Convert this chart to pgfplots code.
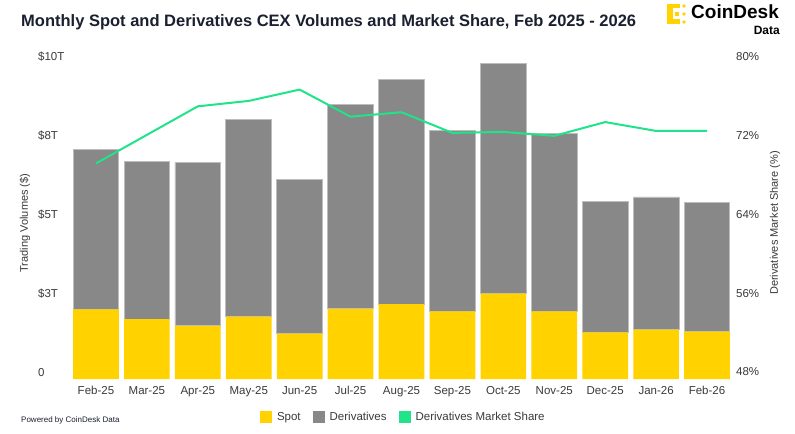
\documentclass[border=0pt]{standalone}
\usepackage{pgfplots}
\pgfplotsset{compat=1.18}
\usepackage{fontspec}
\setmainfont{Liberation Sans}
\definecolor{spotY}{HTML}{FFD200}
\definecolor{derivG}{HTML}{888888}
\definecolor{shareG}{HTML}{20E38A}
\definecolor{titleC}{HTML}{1B2030}
\definecolor{tickC}{HTML}{3A3A3A}
\definecolor{edgeG}{HTML}{BDBDBD}
\newcommand{\fs}[1]{\fontsize{#1bp}{#1bp}\selectfont}
\begin{document}
\begin{tikzpicture}
\useasboundingbox (0,0) rectangle (795bp,434bp);
\fill[white] (0,0) rectangle (795bp,434bp);
\begin{axis}[
  scale only axis, width=662bp, height=315bp,
  at={(70.5bp,55bp)}, anchor=south west,
  xmin=-0.5, xmax=12.5, ymin=0, ymax=10,
  clip=false,
  axis line style={draw=none}, tick style={draw=none},
  ybar stacked, bar width=45.7bp,
  xtick={0,...,12},
  xticklabels={Feb-25,Mar-25,Apr-25,May-25,Jun-25,Jul-25,Aug-25,Sep-25,Oct-25,Nov-25,Dec-25,Jan-26,Feb-26},
  ytick={0,2.5,5,7.5,10},
  yticklabels={0,\$3T,\$5T,\$8T,\$10T},
  ytick pos=left,
  xticklabel style={anchor=base, inner sep=0pt, yshift=-15bp, font=\fs{11.5}, text=tickC},
  yticklabel style={anchor=base west, inner sep=0pt, xshift=-32.5bp, yshift=3bp, font=\fs{11.5}, text=tickC},
  legend columns=3,
  legend image code/.code={\fill[#1,draw=none] (0bp,-6bp) rectangle (12bp,6bp);},
  legend style={at={(0.2863,-0.1206)}, anchor=west, draw=none, fill=none,
    inner sep=0pt, outer sep=0pt, font=\fs{11.5}, text=tickC,
    nodes={inner sep=0pt},
    /tikz/every odd column/.append style={column sep=5bp},
    /tikz/every even column/.append style={column sep=12bp}},
]
\addplot[fill=spotY, draw=none] coordinates {
 (0,2.21) (1,1.90) (2,1.69) (3,1.98) (4,1.44) (5,2.23) (6,2.38)
 (7,2.15) (8,2.71) (9,2.15) (10,1.48) (11,1.57) (12,1.50)};
\addlegendentry{Spot}
\addplot[fill=derivG, draw=edgeG, line width=0.8bp] coordinates {
 (0,5.08) (1,5.00) (2,5.19) (3,6.27) (4,4.90) (5,6.50) (6,7.12)
 (7,5.75) (8,7.32) (9,5.65) (10,4.17) (11,4.21) (12,4.11)};
\addlegendentry{Derivatives}
\addlegendimage{fill=shareG}
\addlegendentry{Derivatives Market Share}
\end{axis}
\begin{axis}[
  scale only axis, width=662bp, height=315bp,
  at={(70.5bp,55bp)}, anchor=south west,
  xmin=-0.5, xmax=12.5, ymin=48, ymax=80,
  clip=false,
  axis line style={draw=none}, tick style={draw=none},
  hide x axis,
  ytick={48,56,64,72,80},
  yticklabels={48\%,56\%,64\%,72\%,80\%},
  ytick pos=right, yticklabel pos=right,
  yticklabel style={anchor=base west, inner sep=0pt, xshift=3.5bp, yshift=3bp, font=\fs{11.5}, text=tickC},
]
\addplot[shareG, line width=2bp, mark=none] coordinates {
 (0,69.9) (1,72.8) (2,75.7) (3,76.25) (4,77.4) (5,74.65) (6,75.1)
 (7,73.0) (8,73.1) (9,72.7) (10,74.1) (11,73.2) (12,73.2)};
\end{axis}
% titles and labels
\node[anchor=base west, inner sep=0pt, font=\bfseries\fs{16.5}, text=titleC] at (21bp,407.3bp)
  {Monthly Spot and Derivatives CEX Volumes and Market Share, Feb 2025 - 2026};
\node[rotate=90, inner sep=0pt, font=\fs{11}, text=tickC] at (25bp,211bp) {Trading Volumes (\$)};
\node[rotate=90, inner sep=0pt, font=\fs{11}, text=tickC] at (775bp,211bp) {Derivatives Market Share (\%)};
\node[anchor=base west, inner sep=0pt, font=\fs{8}, text=titleC] at (21bp,11.7bp) {Powered by CoinDesk Data};
% logo
\fill[spotY] (667bp,430bp) rectangle (680bp,425.5bp);
\fill[spotY] (667bp,430bp) rectangle (672.5bp,410bp);
\fill[spotY] (667bp,414.5bp) rectangle (680bp,410bp);
\fill[spotY] (674.5bp,422bp) rectangle (678.5bp,418bp);
\fill[spotY] (684bp,428bp) circle (1.8bp);
\fill[spotY] (684bp,420bp) circle (1.8bp);
\fill[spotY] (684bp,412bp) circle (1.8bp);
\node[anchor=base west, inner sep=0pt, font=\bfseries\fs{19}, text=black] at (691bp,415.5bp) {CoinDesk};
\node[anchor=base east, inner sep=0pt, font=\bfseries\fs{12}, text=black] at (780bp,399bp) {Data};
\end{tikzpicture}
\end{document}
